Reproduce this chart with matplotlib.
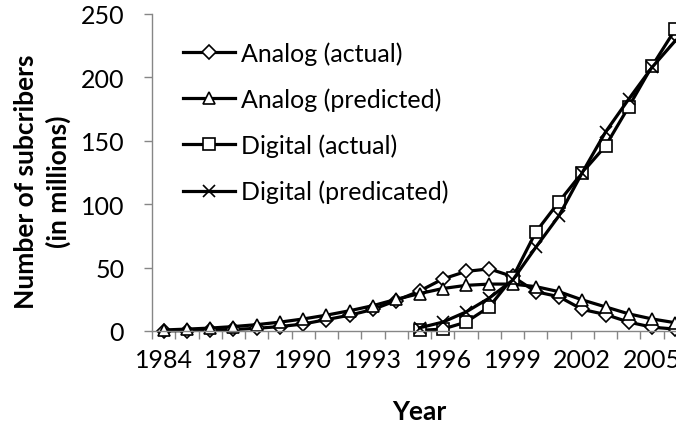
import numpy as np
import matplotlib.pyplot as plt
from matplotlib.ticker import FixedLocator, NullFormatter

years = list(range(1984, 2007))
analog_actual = [0.1, 0.3, 0.7, 1.2, 2.1, 3.5, 5.5, 9.0, 12.5, 17.0, 24.0, 31.5,
                 41.0, 47.0, 49.0, 43.0, 31.0, 27.0, 17.0, 13.0, 7.0, 3.0, 1.5]
analog_pred = [0.8, 1.5, 2.3, 3.5, 5.0, 7.0, 9.5, 12.5, 16.0, 20.0, 25.0, 29.5,
               33.5, 36.0, 37.0, 37.0, 35.0, 31.0, 24.5, 19.0, 13.5, 9.5, 6.5]
digital_years = list(range(1995, 2007))
digital_actual = [0.5, 1.5, 7.0, 19.0, 42.0, 78.0, 102.0, 125.0, 146.0, 177.0, 209.0, 238.0]
digital_pred = [2.5, 7.0, 15.0, 26.0, 40.0, 66.0, 91.0, 125.0, 157.0, 183.0, 208.0, 229.0]

plt.rcParams['font.family'] = ['Lato', 'DejaVu Sans']
fs = 18
fs_title = 19

fig = plt.figure(figsize=(6.76, 4.27), dpi=100)
ax = fig.add_axes([152 / 676, 1 - 332 / 427, 535 / 676, 317 / 427])

x_all = np.arange(len(years))
x_dig = np.array([years.index(y) for y in digital_years])

common = dict(color='black', lw=2.3, mfc='white', mec='black', mew=1.2, clip_on=False)
ax.plot(x_all, analog_actual, marker='D', ms=7, label='Analog (actual)', **common)
ax.plot(x_all, analog_pred, marker='^', ms=9, label='Analog (predicted)', **common)
ax.plot(x_dig, digital_actual, marker='s', ms=9, label='Digital (actual)', **common)
ax.plot(x_dig, digital_pred, marker='x', ms=9, label='Digital (predicated)', **common)

ax.set_xlim(-0.5, len(years) - 0.5)
ax.set_ylim(0, 250)
ax.set_yticks(range(0, 251, 50))

# category axis: tick marks between categories, labels every third year
ax.xaxis.set_major_locator(FixedLocator(x_all[::3]))
ax.set_xticklabels([str(y) for y in years[::3]])
ax.xaxis.set_minor_locator(FixedLocator(np.arange(-0.5, len(years), 1.0)))
ax.xaxis.set_minor_formatter(NullFormatter())
ax.tick_params(axis='x', which='major', length=0, pad=12, labelsize=fs)
ax.tick_params(axis='x', which='minor', length=6, color='#868686', width=1)
ax.tick_params(axis='y', length=6, color='#868686', width=1, pad=14, labelsize=fs)

for s in ['top', 'right']:
    ax.spines[s].set_visible(False)
for s in ['left', 'bottom']:
    ax.spines[s].set_color('#868686')
    ax.spines[s].set_linewidth(1)

ax.set_ylabel('Number of subcribers\n(in millions)', fontsize=fs_title, fontweight='bold',
              linespacing=1.35, va='center')
ax.yaxis.set_label_coords(-0.205, 0.473)
ax.set_xlabel('Year', fontsize=fs_title, fontweight='bold', va='center')
ax.xaxis.set_label_coords(0.5, -0.252)

ax.legend(loc='upper left', bbox_to_anchor=(0.04, 0.945), frameon=False, fontsize=fs,
          handlelength=2.05, handletextpad=0.24, labelspacing=0.9, borderaxespad=0)

fig.savefig('out.png', dpi=100)
